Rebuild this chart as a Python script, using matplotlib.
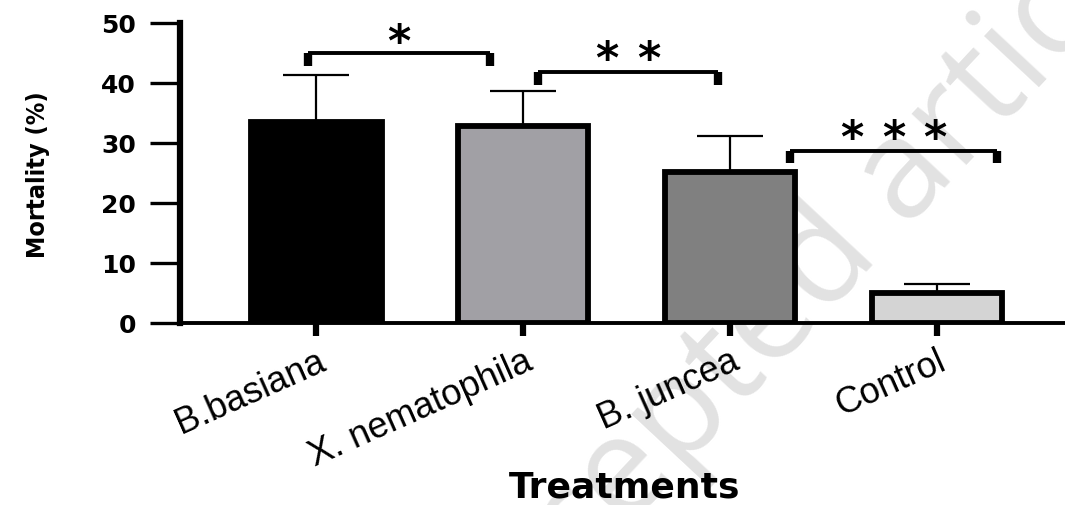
import numpy as np
import matplotlib
matplotlib.use("Agg")
import matplotlib.pyplot as plt
from matplotlib.transforms import ScaledTranslation

# data
treatments = ["B.basiana", "X. nematophila", "B. juncea", "Control"]
mortality = [33.5, 32.8, 25.2, 5.0]
err_up = [7.8, 5.9, 6.0, 1.5]
bar_colors = ["#000000", "#a1a0a5", "#808080", "#d4d4d4"]

# significance brackets: (left, right, top of bracket, bottom of legs, stars, star centre)
brackets = [
    (-0.04, 0.84, 45.0, 42.8, "*", 48.2),
    (1.07, 1.94, 41.8, 39.7, "**", 45.3),
    (2.29, 3.29, 28.7, 26.7, "***", 32.2),
]

W, H = 1065, 506
fig = plt.figure(figsize=(W / 100, H / 100), dpi=100)

# faint watermark behind the plot
fig.text(800 / W, 1 - 290 / H, "Accepted article", rotation=47, fontsize=100, color="#e2e2e2",
         ha="center", va="center", family=["Open Sans", "DejaVu Sans"], zorder=-1)

ax = fig.add_axes([180 / W, 1 - 324 / H, 1 - 180 / W, 300 / H])
ax.patch.set_alpha(0)

x = np.arange(len(treatments))
ax.errorbar(x, mortality, yerr=[np.zeros(len(x)), err_up], fmt="none", ecolor="black",
            elinewidth=1.6, capsize=24, capthick=1.6, zorder=2)
ax.bar(x, mortality, width=0.63, color=bar_colors, edgecolor="black", linewidth=4.2, zorder=3)

ax.set_xlim(-0.66, 3.62)
ax.set_ylim(0, 50)
ax.set_yticks([0, 10, 20, 30, 40, 50])
ax.set_xticks(x)
ax.set_xticklabels(treatments, rotation=24, ha="right", va="top", rotation_mode="anchor",
                   fontsize=26, family="Liberation Sans")
for lab in ax.get_xticklabels():
    lab.set_transform(lab.get_transform() + ScaledTranslation(0.15, 0, fig.dpi_scale_trans))

for lab in ax.get_yticklabels():
    lab.set_fontweight("bold")
    lab.set_fontsize(18)

ax.tick_params(axis="y", length=21.6, width=2.4, pad=10, colors="black")
ax.tick_params(axis="x", length=9.4, width=4.5, pad=5)
for s in ["top", "right"]:
    ax.spines[s].set_visible(False)
ax.spines["left"].set_linewidth(4.5)
ax.spines["bottom"].set_linewidth(2.8)

gap = 30  # points between stars
for x1, x2, yt, yl, stars, ys in brackets:
    ax.plot([x1, x2], [yt, yt], color="black", lw=2.8, clip_on=False, zorder=4,
            solid_capstyle="butt")
    for xx in (x1, x2):
        ax.plot([xx, xx], [yl, yt], color="black", lw=6, clip_on=False, zorder=4,
                solid_capstyle="butt")
    k = len(stars)
    for i in range(k):
        ax.annotate("*", xy=((x1 + x2) / 2, ys), xytext=((i - (k - 1) / 2) * gap, -15),
                    textcoords="offset points", ha="center", va="baseline",
                    fontsize=32, fontweight="bold", annotation_clip=False)

fig.text(38 / W, 1 - 175 / H, "Mortality (%)", rotation=90, ha="center", va="center",
         fontsize=18, fontweight="bold", fontstretch="condensed", family="DejaVu Sans")
fig.text(625 / W, 1.5 / H, "Treatments", ha="center", va="bottom",
         fontsize=26, fontweight="bold")

fig.savefig("out.png", dpi=100)
